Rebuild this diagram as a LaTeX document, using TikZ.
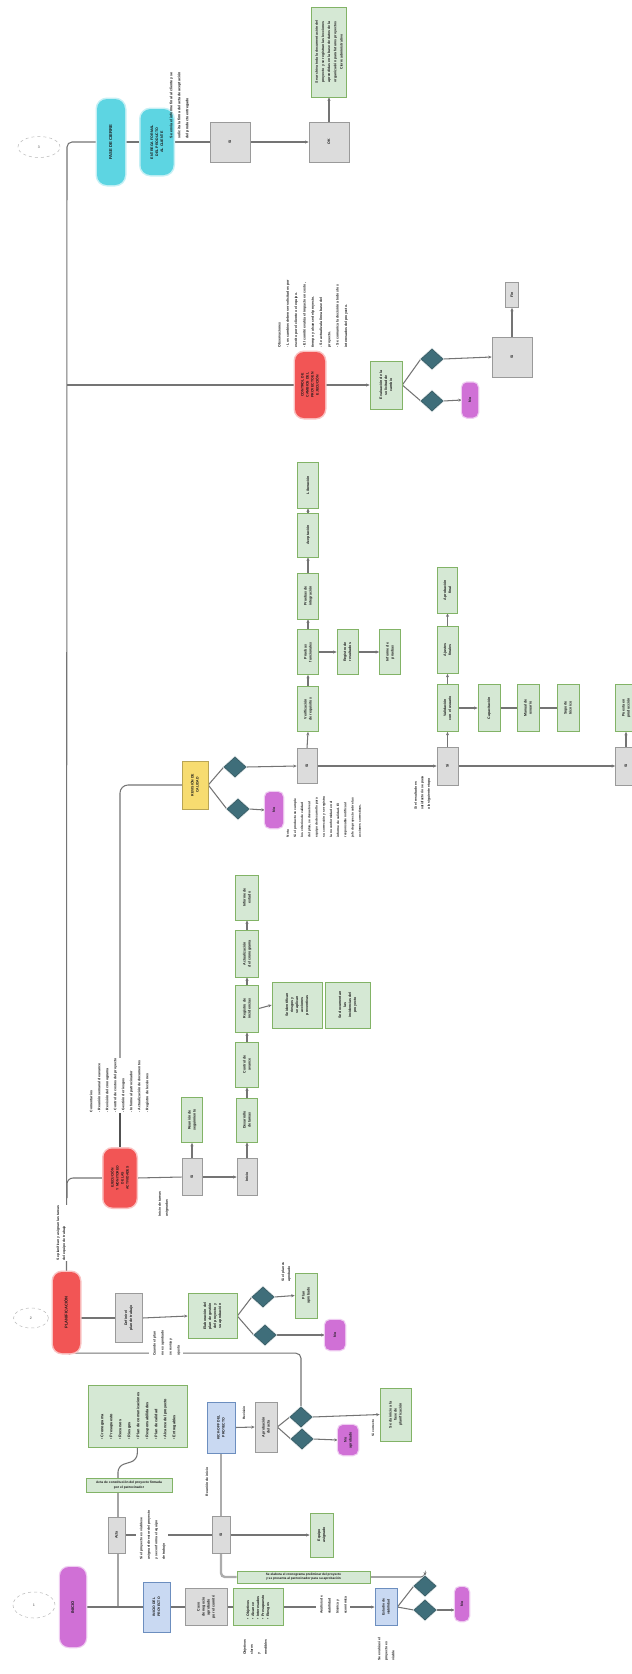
\documentclass[tikz,border=0pt]{standalone}
\usepackage{fontspec}
\setmainfont{Liberation Sans}[UprightFont={* Bold}, BoldFont={* Bold}]
\usepackage{graphicx}
\usetikzlibrary{shapes.geometric,arrows.meta}
\pgfdeclarelayer{bg}
\pgfsetlayers{bg,main}
\definecolor{gfill}{HTML}{D5E8D4}
\definecolor{gdraw}{HTML}{82B366}
\definecolor{grfill}{HTML}{DCDCDC}
\definecolor{grdraw}{HTML}{9A9A9A}
\definecolor{bfill}{HTML}{C9D9F2}
\definecolor{bdraw}{HTML}{6C8EBF}
\definecolor{mag}{HTML}{D070D6}
\definecolor{redp}{HTML}{F25555}
\definecolor{cyanp}{HTML}{5DD5E2}
\definecolor{yelp}{HTML}{F7DC70}
\definecolor{tealc}{HTML}{3F6E7A}
\definecolor{lnc}{HTML}{747474}
\newcommand{\rt}[1]{\rotatebox{90}{\begin{tabular}{@{}c@{}}#1\end{tabular}}}
\newcommand{\rtl}[1]{\rotatebox{90}{\begin{tabular}{@{}l@{}}#1\end{tabular}}}
\newcommand{\fsz}[2]{\fontsize{#1}{#2}\selectfont}
\begin{document}
\begin{tikzpicture}[x=1pt,y=-1pt,
  every node/.style={inner sep=0.6pt, font=\fsz{3.6}{5}, text=black!90},
  wh/.style n args={2}{minimum width=#1pt, minimum height=#2pt},
  gbox/.style={draw=gdraw, fill=gfill, line width=0.6pt},
  grbox/.style={draw=grdraw, fill=grfill, line width=0.6pt},
  bbox/.style={draw=bdraw, fill=bfill, line width=0.8pt},
  rpill/.style={rounded corners=9pt, fill=redp, preaction={draw=redp!35, line width=3pt}},
  cpill/.style={rounded corners=10pt, fill=cyanp, preaction={draw=cyanp!35, line width=3pt}},
  mpill/.style={rounded corners=5pt, fill=mag, preaction={draw=mag!35, line width=2.5pt}},
  ybox/.style={fill=yelp, draw=yelp!75!black, line width=0.5pt},
  dia/.style={diamond, fill=tealc, draw=tealc!70!black, minimum width=22pt, minimum height=20pt, inner sep=0pt, preaction={draw=tealc!25, line width=2pt}},
  circ/.style={ellipse, draw=gray!55, dashed, line width=0.5pt, text=gray},
  lab/.style={fill=white, inner sep=0.8pt},
  ln/.style={draw=lnc, line width=1.05pt},
  arr/.style={ln, -{Stealth[length=3.5pt,width=3pt]}},
  dbl/.style={draw=gray!65, line width=2.4pt}]
\useasboundingbox (0,0) rectangle (632,1674);

% ---------------- top: closing phase
\node[circ, wh={42}{21}] (c3) at (39,147) {3};
\node[cpill, wh={28}{86}, font=\fsz{4.2}{5}] (cy1) at (111,142) {\rt{FASE DE CIERRE}};
\node[cpill, wh={33}{66}, font=\fsz{3.6}{5}] (cy2) at (157,142) {\rt{ENTREGA FORMAL\\ DEL PRODUCTO\\ AL CLIENTE}};
\node[anchor=south west, font=\fsz{3.6}{8}] (lt1) at (166,139) {\rtl{Se envía el informe final al cliente y se\\ solicita la firma del acta de aceptación\\ del producto entregado}};
\node[grbox, wh={40}{40}] (gt1) at (230,142) {\rt{Sí}};
\node[grbox, wh={40}{40}] (gt2) at (329,142) {\rt{OK}};
\node[gbox, wh={35}{90}, font=\fsz{3.5}{6.2}] (gt3) at (329,52) {\rt{Se archiva toda la documentación del\\ proyecto y se registran las lecciones\\ aprendidas en la base de datos de la\\ organización para futuros proyectos\\ Cierre administrativo}};

% ---------------- change control branch
\node[rpill, wh={30}{66}, font=\fsz{3.5}{5}] (r3) at (310,385) {\rt{CONTROL DE\\ CAMBIOS DEL\\ PROYECTO EN\\ EJECUCIÓN}};
\node[anchor=south west, font=\fsz{3.5}{8.3}] (n3) at (274,348) {\rtl{Observaciones\\ - Los cambios deben ser solicitados por\\ escrito por el cliente o el equipo.\\ - El comité evalúa el impacto en costo,\\ tiempo y alcance del proyecto.\\ - Se actualiza la línea base del\\ proyecto.\\ - Se comunica la decisión a todos los\\ interesados del proyecto.}};
\node[gbox, wh={32}{48}] (g3) at (386,385) {\rt{Evaluación de la\\ solicitud de\\ cambio}};
\node[dia] (dA) at (432,359) {};
\node[dia] (dB) at (432,401) {};
\node[grbox, wh={40}{40}] (gx) at (512,357) {\rt{Sí}};
\node[grbox, wh={13}{25}] (gxs) at (512,295) {\rt{Fin}};
\node[mpill, wh={16}{35}] (m3) at (470,400) {\rt{No}};

% ---------------- quality branch
\node[ybox, wh={26}{48}, font=\fsz{3.5}{5}] (yl) at (195,785) {\rt{REVISIÓN DE\\ CALIDAD}};
\node[dia] (dC) at (235,767) {};
\node[dia] (dD) at (238,809) {};
\node[mpill, wh={18}{36}] (mY) at (274,810) {\rt{No}};
\node[anchor=south west, font=\fsz{3.2}{7.2}] (pY) at (283,838) {\rtl{Nota\\ Si el producto no cumple\\ los criterios de calidad\\ del plan, se devuelve al\\ equipo de desarrollo para\\ su corrección y se registra\\ la no conformidad en el\\ informe de calidad. El\\ responsable notifica al\\ jefe de proyecto sobre las\\ acciones correctivas.}};
\node[grbox, wh={20}{35}] (gY1) at (307,766) {\rt{Sí}};
\node[gbox, wh={21}{45}] (gc1) at (308,709) {\rt{Verificación\\ de requisitos}};
\node[gbox, wh={21}{45}] (gc2) at (308,652) {\rt{Pruebas\\ funcionales}};
\node[gbox, wh={21}{46}] (gc3) at (308,596) {\rt{Pruebas de\\ integración}};
\node[gbox, wh={21}{44}] (gc4) at (308,535) {\rt{Aceptación}};
\node[gbox, wh={21}{46}] (gc5) at (308,485) {\rt{Liberación}};
\node[gbox, wh={21}{45}] (gs1) at (347.5,652) {\rt{Registro de\\ resultados}};
\node[gbox, wh={21}{45}] (gs2) at (390,652) {\rt{Informe de\\ pruebas}};
\node[grbox, wh={21}{38}] (gY2) at (447.5,766) {\rt{Sí}};
\node[font=\fsz{3.4}{6.5}] (lY2) at (422,793) {\rtl{Si el resultado es\\ satisfactorio se pasa\\ a la siguiente etapa}};
\node[gbox, wh={21}{47}] (gd1) at (447.5,708) {\rt{Validación\\ con el usuario}};
\node[gbox, wh={21}{47}] (gd2) at (447.5,650) {\rt{Ajustes\\ finales}};
\node[gbox, wh={20}{46}] (gd3) at (447.5,590) {\rt{Aprobación\\ final}};
\node[gbox, wh={22}{47}] (gr1) at (489,708) {\rt{Capacitación}};
\node[gbox, wh={22}{47}] (gr2) at (528,708) {\rt{Manual de\\ usuario}};
\node[gbox, wh={22}{47}] (gr3) at (568,708) {\rt{Soporte\\ técnico}};
\node[grbox, wh={21}{38}] (gY3) at (626,766) {\rt{Sí}};
\node[gbox, wh={21}{47}] (ge1) at (626,708) {\rt{Puesta en\\ producción}};

% ---------------- execution branch
\node[rpill, wh={33}{59}, font=\fsz{3.4}{5}] (r2) at (120,1178) {\rt{EJECUCIÓN\\ Y MONITOREO\\ DE LAS\\ ACTIVIDADES}};
\node[lab, font=\fsz{3.4}{6}] (spl) at (61,1233) {\rtl{Se planifican y asignan las tareas\\ del equipo de trabajo}};
\node[grbox, wh={20}{37}] (gP1) at (192,1177) {\rt{Sí}};
\node[font=\fsz{3.4}{7}] (lP) at (163,1204) {\rtl{Inicio de tareas\\ asignadas}};
\node[gbox, wh={21}{45}] (gP1u) at (192,1120) {\rt{Reunión de\\ seguimiento}};
\node[grbox, wh={20}{37}] (gP2) at (247,1177) {\rt{Inicio}};
\node[gbox, wh={21}{44}] (gq1) at (247,1120) {\rt{Desarrollo\\ de tareas}};
\node[gbox, wh={23}{45}] (gq2) at (247,1064.5) {\rt{Control de\\ avance}};
\node[gbox, wh={23}{47}] (gq3) at (247,1008.5) {\rt{Registro de\\ incidencias}};
\node[gbox, wh={23}{47}] (gq4) at (247,953.5) {\rt{Actualización\\ del cronograma}};
\node[gbox, wh={23}{45}] (gq5) at (247,897.5) {\rt{Informe de\\ estado}};
\node[gbox, wh={50}{46}] (gs3) at (297,1005) {\rt{Se identifican\\ riesgos y\\ se aplican\\ acciones\\ preventivas}};
\node[gbox, wh={45}{46}] (gs4) at (347.5,1005) {\rt{Se documentan\\ las\\ incidencias del\\ proyecto}};
\node[anchor=south west, fill=white, font=\fsz{3.5}{8}] (n2) at (86,1113) {\rtl{Comentarios\\ - Reunión semanal de avance\\ - Revisión del cronograma\\ - Control de costos del proyecto\\ - Gestión de riesgos\\ - Informe al patrocinador\\ - Actualización de documentos\\ - Registro de lecciones}};

% ---------------- planning branch
\node[circ, wh={35}{20}] (c2) at (31,1318) {2};
\node[rpill, wh={27}{81}, font=\fsz{4}{5}] (r1) at (66.5,1312.5) {\rt{PLANIFICACIÓN}};
\node[grbox, wh={27}{49}] (gM1) at (128.5,1318) {\rt{Definir el\\ plan de trabajo}};
\node[gbox, wh={49}{45}] (gM2) at (212.5,1316) {\rt{Elaboración del\\ plan de gestión\\ del proyecto y\\ su aprobación}};
\node[lab, font=\fsz{3.4}{8}] (lM) at (166,1343) {\rtl{Cuando el plan\\ no es aprobado\\ se revisa y\\ ajusta}};
\node[dia] (dE) at (263,1297) {};
\node[dia] (dF) at (265,1335) {};
\node[gbox, wh={22}{45}] (gE) at (306,1295.5) {\rt{Plan\\ aprobado}};
\node[font=\fsz{3.4}{6}] (lE) at (286,1272) {\rtl{Si el plan es\\ aprobado}};
\node[mpill, wh={20}{30}] (mF) at (335,1335) {\rt{No}};

% ---------------- initiation (bottom)
\node[circ, wh={42}{26}] (c1) at (34,1605) {1};
\node[mpill, wh={26}{80}, rounded corners=9pt, font=\fsz{4}{5}] (mp1) at (73,1607) {\rt{INICIO}};
\node[bbox, wh={27}{50}, font=\fsz{3.5}{5}] (b1) at (156.5,1607) {\rt{INICIO DEL\\ PROYECTO}};
\node[grbox, wh={17}{36}] (gB1) at (116.5,1535) {\rt{Acta}};
\node[gbox, wh={86}{14}, align=center, font=\fsz{3.3}{4.4}] (tg1) at (129,1485) {Acta de constitución del proyecto firmada\\ por el patrocinador};
\node[gbox, wh={99}{62}, font=\fsz{3.8}{9}] (bg1) at (137.5,1416) {\rtl{• Cronograma\\ • Presupuesto\\ • Recursos\\ • Riesgos\\ • Plan de comunicaciones\\ • Responsabilidades\\ • Plan de calidad\\ • Alcance del proyecto\\ • Entregables}};
\node[grbox, wh={42}{37}] (gB2) at (206,1607) {\rt{Caso\\ de negocio\\ aprobado\\ por el comité}};
\node[gbox, wh={50}{37}] (gB3) at (258,1607) {\rtl{• Objetivos\\ • Alcance\\ • Interesados\\ • Presupuesto\\ • Riesgos}};
\node[font=\fsz{3.4}{7}] (lB3) at (255,1647) {\rtl{Objetivos\\ claros\\ y\\ medibles}};
\node[lab, font=\fsz{3.4}{8}] (lmid) at (333,1605) {\rtl{Análisis de\\ viabilidad\\ técnica y\\ económica}};
\node[bbox, wh={22}{37}, font=\fsz{3.4}{5}] (b2) at (386,1607) {\rt{Estudio de\\ viabilidad}};
\node[font=\fsz{3.4}{7}] (lB2) at (386,1649) {\rtl{Se evalúa si el\\ proyecto es\\ viable}};
\node[dia] (dG) at (425,1586) {};
\node[dia] (dH) at (425,1610) {};
\node[mpill, wh={14}{34}] (mB) at (462,1604) {\rt{No}};
\node[grbox, wh={18}{37}] (gC) at (221,1535) {\rt{Sí}};
\node[lab, font=\fsz{3.4}{7.5}] (lC) at (152,1535) {\rtl{Si el proyecto es viable se\\ asigna el director del proyecto\\ y se conforma el equipo\\ de trabajo}};
\node[gbox, wh={23}{44}] (gC2) at (321.5,1535) {\rt{Equipo\\ asignado}};
\node[gbox, wh={133}{12}, align=center, font=\fsz{3.2}{4.2}] (tg2) at (303.5,1577) {Se elabora el cronograma preliminar del proyecto\\ y se presenta al patrocinador para su aprobación};
\node[bbox, wh={28}{51}, font=\fsz{3.5}{5}] (b3) at (221,1427.5) {\rt{KICK-OFF DEL\\ PROYECTO}};
\node[font=\fsz{3.4}{5}] (lb3) at (207,1482) {\rt{Reunión de inicio}};
\node[grbox, wh={22}{50}] (gD) at (266,1427) {\rt{Aprobación\\ del acta}};
\node[font=\fsz{3.2}{5}] (lgD) at (244,1413) {\rt{Revisión}};
\node[dia] (d1) at (301,1417) {};
\node[dia] (d2) at (302,1439) {};
\node[mpill, wh={20}{30}] (m2) at (348,1440) {\rt{No\\ aprobado}};
\node[gbox, wh={31}{53}] (gsi) at (395.5,1414.5) {\rt{Se da inicio a la\\ fase de\\ planificación}};
\node[font=\fsz{3.2}{5}] (lsi) at (373,1428) {\rt{Si correcto}};

% ---------------- connectors
\begin{pgfonlayer}{bg}
\fill[white] (0,0) rectangle (632,1674);
\draw[ln, rounded corners=5] (r1.north) -- (67,142) -- (cy1.west);
\draw[ln] (cy1.east) -- (cy2.west);
\draw[ln] (cy2.east) -- (gt1.west);
\draw[arr] (gt1.east) -- (gt2.west);
\draw[arr] (gt2.north) -- (gt3.south);
\draw[ln, line width=1.3pt] (67,385) -- (r3.west);
\draw[arr] (r3.east) -- (g3.west);
\draw[ln] (g3.east) -- (dA.west);
\draw[ln] (g3.east) -- (dB.west);
\draw[arr] (dA.east) -- (gx.west);
\draw[arr] (dB.east) -- (m3.west);
\draw[arr] (gx.north) -- (gxs.south);
\draw[ln, rounded corners=8] (r2.north) -- (120,785) -- (yl.west);
\draw[line width=2.2pt, draw=lnc!70!black] (r2.north) -- (120,1110);
\draw[ln] (yl.east) -- (dC.west);
\draw[ln] (yl.east) -- (dD.west);
\draw[arr] (dD.east) -- (mY.west);
\draw[arr] (dC.east) -- (gY1.west);
\draw[arr] (gY1.north) -- (gc1.south);
\draw[arr] (gc1.north) -- (gc2.south);
\draw[arr] (gc2.north) -- (gc3.south);
\draw[arr] (gc3.north) -- (gc4.south);
\draw[arr] (gc4.north) -- (gc5.south);
\draw[arr] (gc2.east) -- (gs1.west);
\draw[arr] (gs1.east) -- (gs2.west);
\draw[arr] (gY1.east) -- (gY2.west);
\draw[arr] (gY2.north) -- (gd1.south);
\draw[arr] (gd1.north) -- (gd2.south);
\draw[arr] (gd2.north) -- (gd3.south);
\draw[arr] (gd1.east) -- (gr1.west);
\draw[ln] (gr1.east) -- (gr2.west);
\draw[ln] (gr2.east) -- (gr3.west);
\draw[arr] (gY2.east) -- (gY3.west);
\draw[arr] (gY3.north) -- (ge1.south);
\draw[ln, rounded corners=6] (67,1198) |- (r2.west);
\draw[ln] (r2.east) -- (gP1.west);
\draw[arr] (gP1.north) -- (gP1u.south);
\draw[arr] (gP1.east) -- (gP2.west);
\draw[arr] (gP2.north) -- (gq1.south);
\draw[arr] (gq1.north) -- (gq2.south);
\draw[arr] (gq2.north) -- (gq3.south);
\draw[arr] (gq3.north) -- (gq4.south);
\draw[arr] (gq4.north) -- (gq5.south);
\draw[arr] (gq3.east) -- (gs3.west);
\draw[ln] (gM1.west -| r1.east) -- (gM1.west);
\draw[arr] (gM1.east) -- (gM2.west);
\draw[ln] (gM2.east) -- (dE.west);
\draw[ln] (gM2.east) -- (dF.west);
\draw[arr] (dE.east) -- (gE.west);
\draw[arr] (dF.east) -- (mF.west);
\draw[arr, rounded corners=5] (d1.north) |- (r1.south);
\draw[ln] (mp1.east) -- (b1.west);
\draw[ln, rounded corners=6] (118,1607) -- (118,1466) -- (137,1460) -- (bg1.south);
\draw[ln] (gB1.east) -- (gC.west);
\draw[ln] (b1.east) -- (gB2.west);
\draw[ln] (gB2.east) -- (gB3.west);
\draw[arr] (gB3.east) -- (b2.west);
\draw[ln] (b2.east) -- (dG.west);
\draw[ln] (b2.east) -- (dH.west);
\draw[arr] (dH.east) -- (mB.west |- dH.east);
\draw[dbl] (gC.north) -- (b3.south);
\draw[dbl, rounded corners=4] (gC.south) |- (tg2.west);
\draw[arr, rounded corners=4] (tg2.east) -| (dG.north);
\draw[arr] (gC.east) -- (gC2.west);
\draw[arr] (b3.east) -- (gD.west);
\draw[ln] (gD.east) -- (d1.west);
\draw[ln] (gD.east) -- (d2.west);
\draw[arr] (d2.east) -- (m2.west);
\draw[arr] (d1.east) -- (gsi.west);
\end{pgfonlayer}
\end{tikzpicture}
\end{document}
